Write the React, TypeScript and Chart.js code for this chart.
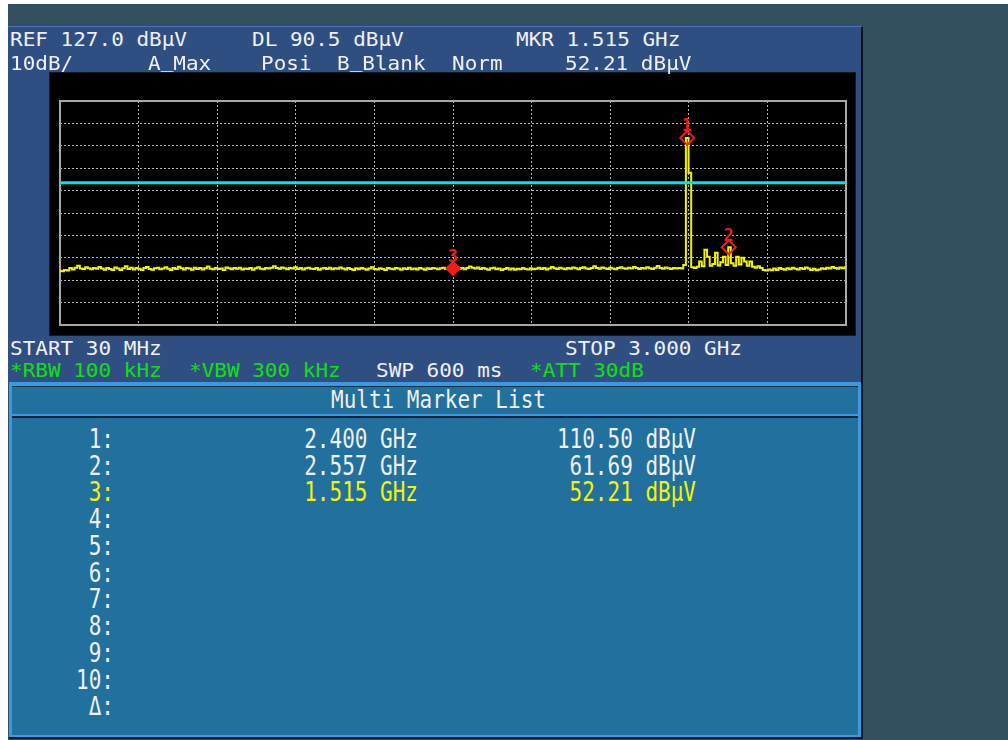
import React, { useEffect, useRef } from "react";
import { Chart, registerables } from "chart.js";
Chart.register(...registerables);

// ---- sweep / scale settings ----
const START_MHZ = 30;
const STOP_MHZ = 3000;
const STEP_MHZ = 10;
const REF_LEVEL = 127.0;
const BOTTOM_LEVEL = 27.0;
const DISPLAY_LINE = 90.5;

const X_TICKS = [30, 327, 624, 921, 1218, 1515, 1812, 2109, 2406, 2703, 3000];
const Y_TICKS = [27, 37, 47, 57, 67, 77, 87, 97, 107, 117, 127];

// ---- trace A (max hold), dBµV, one value per 10 MHz from 30 MHz ----
const TRACE_LEVELS = [
  51.2, 51.0, 51.6, 51.3, 52.4, 51.8, 52.6, 53.4, 52.2, 52.0, 52.8, 52.3, 51.9, 52.5, 52.1, 52.9, 52.2, 51.7, 52.4, 52.0,
  51.6, 52.7, 52.2, 51.5, 52.3, 53.2, 52.0, 52.6, 51.8, 52.4, 52.1, 51.6, 52.5, 52.9, 52.0, 51.7, 52.3, 52.6, 51.9, 52.2,
  52.8, 52.1, 51.6, 52.4, 52.0, 53.0, 52.3, 51.8, 52.5, 52.2, 51.7, 52.6, 52.0, 52.4, 51.8, 52.3, 53.1, 52.1, 51.9, 52.5,
  52.0, 52.2, 51.6, 52.7, 52.3, 51.9, 52.4, 52.1, 52.6, 51.8, 52.2, 52.0, 52.5, 51.7, 52.3, 52.8, 52.1, 51.9, 52.4, 52.2,
  52.6, 53.2, 52.4, 52.1, 52.7, 52.3, 51.9, 52.5, 52.2, 52.8, 52.0, 52.4, 51.8, 52.3, 52.6, 52.1, 52.0, 52.5, 51.7, 52.2,
  52.4, 52.0, 52.6, 51.9, 52.3, 52.1, 52.7, 52.2, 51.8, 52.4, 52.0, 51.6, 52.3, 51.9, 52.5, 52.1, 51.7, 52.2, 52.8, 52.0,
  51.8, 52.3, 52.0, 51.6, 52.4, 52.1, 51.9, 52.5, 52.2, 51.7, 52.3, 52.0, 52.6, 51.9, 52.2, 51.8, 52.4, 52.1, 51.7, 52.3,
  52.0, 52.5, 52.2, 51.9, 52.3, 52.6, 52.0, 52.4, 52.2, 52.3, 52.8, 52.1, 52.5, 51.9, 52.4, 53.1, 52.6, 52.2, 52.7, 52.0,
  52.4, 52.1, 51.7, 52.3, 52.6, 51.9, 52.2, 51.6, 52.0, 52.4, 51.8, 52.2, 51.7, 52.1, 51.9, 52.5, 52.0, 51.8, 52.3, 51.9,
  52.1, 52.6, 52.0, 52.4, 51.8, 52.2, 52.9, 52.3, 52.0, 52.6, 52.2, 51.9, 52.5, 52.1, 52.7, 52.3, 51.9, 52.4, 52.8, 52.2,
  52.0, 52.5, 53.2, 52.4, 52.1, 52.7, 52.3, 52.0, 52.6, 52.2, 51.9, 52.5, 52.8, 52.3, 52.1, 52.6, 52.2, 52.9, 52.4, 52.0,
  52.5, 52.2, 52.8, 52.3, 52.0, 52.6, 53.3, 52.4, 52.1, 52.7, 52.3, 52.0, 52.5, 52.2, 52.4, 52.2, 53.8, 110.5, 95.0, 52.8,
  52.4, 53.0, 55.3, 53.2, 60.6, 57.5, 53.4, 54.2, 59.3, 53.6, 55.0, 57.5, 53.8, 61.7, 54.6, 53.5, 57.5, 54.0, 57.0, 55.3,
  53.4, 55.3, 53.0, 52.6, 53.2, 52.4, 51.5, 51.3, 51.8, 51.4, 52.2, 51.6, 52.5, 52.0, 51.7, 52.3, 51.9, 52.6, 52.1, 51.8,
  52.4, 52.0, 52.7, 52.2, 51.6, 52.1, 51.4, 51.8, 52.3, 52.0, 52.6, 52.2, 52.9, 52.4, 52.1, 52.7, 52.3, 52.8,
];

// ---- markers ----
const MARKER_IDS = ["1", "2", "3"];
const MARKER_FREQ_GHZ = [2.4, 2.557, 1.515];
const MARKER_LEVELS = [110.5, 61.69, 52.21];
const ACTIVE_MARKER = 2;
const LIST_ROWS = ["1", "2", "3", "4", "5", "6", "7", "8", "9", "10", "Δ"];

const FONT = '"DejaVu Sans Mono", monospace';
const RED = "#f01c1c";
const WHITE = "#f0f0f0";
const GREEN = "#10e010";
const YELLOW = "#f4f400";

function T(props: { x: number; y: number; s: string; color?: string; sy?: number; size?: number; align?: string }) {
  const size = props.size ?? 21;
  const sy = props.sy ?? 1;
  const top = props.y - 0.117 * size * sy;
  const style: any = {
    position: "absolute",
    top,
    fontFamily: FONT,
    fontSize: size,
    lineHeight: size + "px",
    color: props.color ?? WHITE,
    whiteSpace: "pre",
    transform: `scaleY(${sy})`,
    transformOrigin: "0 0",
    zIndex: 2,
  };
  if (props.align === "right") style.right = 1008 - props.x;
  else style.left = props.x;
  const parts = props.s.split("_");
  return (
    <div style={style}>
      {parts.map((p, i) => (
        <React.Fragment key={i}>
          {i > 0 && <span style={{ position: "relative", top: -3 }}>_</span>}
          {p}
        </React.Fragment>
      ))}
    </div>
  );
}

function Plot() {
  const ref = useRef<HTMLCanvasElement>(null);
  useEffect(() => {
    const canvas = ref.current!;
    const traceData = TRACE_LEVELS.map((v, i) => ({ x: START_MHZ + i * STEP_MHZ, y: v }));
    const dlData = [
      { x: START_MHZ, y: DISPLAY_LINE },
      { x: STOP_MHZ, y: DISPLAY_LINE },
    ];
    const markerData = MARKER_FREQ_GHZ.map((f, i) => ({ x: f * 1000, y: MARKER_LEVELS[i] }));

    const framePlugin = {
      id: "frame",
      beforeDatasetsDraw(chart: any) {
        const { ctx, chartArea: a } = chart;
        ctx.save();
        ctx.strokeStyle = "#a8a8a8";
        ctx.lineWidth = 2;
        ctx.strokeRect(a.left, a.top, a.right - a.left, a.bottom - a.top);
        ctx.restore();
      },
    };
    const labelPlugin = {
      id: "markerLabels",
      afterDatasetsDraw(chart: any) {
        const meta = chart.getDatasetMeta(2);
        const ctx = chart.ctx;
        ctx.save();
        ctx.fillStyle = RED;
        ctx.font = 'bold 17px "DejaVu Sans Mono"';
        ctx.textAlign = "center";
        ctx.textBaseline = "alphabetic";
        meta.data.forEach((el: any, i: number) => {
          ctx.fillText(MARKER_IDS[i], el.x, el.y - 6.5);
        });
        ctx.restore();
      },
    };

    const chart = new Chart(canvas, {
      type: "line",
      data: {
        datasets: [
          {
            label: "A_Max",
            data: traceData,
            borderColor: "#f2f200",
            borderWidth: 2,
            pointRadius: 0,
            stepped: "middle",
            order: 3,
          },
          {
            label: "DL",
            data: dlData,
            borderColor: "#00e4ee",
            borderWidth: 3,
            pointRadius: 0,
            order: 2,
          },
          {
            type: "scatter",
            label: "Markers",
            data: markerData,
            showLine: false,
            pointStyle: "rectRot",
            pointRadius: MARKER_IDS.map((_, i) => (i === ACTIVE_MARKER ? 6.5 : 7)),
            pointBorderWidth: 2,
            pointBorderColor: RED,
            pointBackgroundColor: MARKER_IDS.map((_, i) => (i === ACTIVE_MARKER ? RED : "rgba(0,0,0,0)")),
            borderColor: RED,
            backgroundColor: RED,
            order: 1,
          } as any,
        ],
      },
      options: {
        animation: false,
        responsive: false,
        maintainAspectRatio: false,
        devicePixelRatio: 1,
        layout: { padding: { left: 10, top: 28, right: 9, bottom: 10 } },
        plugins: { legend: { display: false }, tooltip: { enabled: false } },
        events: [],
        scales: {
          x: {
            type: "linear",
            min: START_MHZ,
            max: STOP_MHZ,
            ticks: { display: false },
            grid: { color: "#b4b4b4", lineWidth: 1, drawTicks: false },
            border: { display: false, dash: [2, 2] },
            afterBuildTicks: (s: any) => {
              s.ticks = X_TICKS.map((v) => ({ value: v }));
            },
          },
          y: {
            type: "linear",
            min: BOTTOM_LEVEL,
            max: REF_LEVEL,
            ticks: { display: false },
            grid: { color: "#b4b4b4", lineWidth: 1, drawTicks: false },
            border: { display: false, dash: [2, 2] },
            afterBuildTicks: (s: any) => {
              s.ticks = Y_TICKS.map((v) => ({ value: v }));
            },
          },
        },
      } as any,
      plugins: [framePlugin, labelPlugin],
    });
    return () => chart.destroy();
  }, []);
  return (
    <canvas
      ref={ref}
      width={805}
      height={262}
      style={{ position: "absolute", left: 50, top: 73, width: 805, height: 262, background: "#000", outline: "1px solid #141a22", zIndex: 1 }}
    />
  );
}

export default function App() {
  const active = ACTIVE_MARKER;
  const mkrFreq = MARKER_FREQ_GHZ[active].toFixed(3);
  const mkrLevel = MARKER_LEVELS[active].toFixed(2);
  const HS = 0.92;
  const LS = 1.26;
  return (
    <div style={{ position: "fixed", left: 0, top: 0, width: 1008, height: 740, background: "#ffffff", overflow: "hidden" }}>
      <div style={{ position: "absolute", left: 8, top: 4, width: 1000, height: 736, background: "#325060" }} />
      {/* upper panel */}
      <div
        style={{
          position: "absolute",
          left: 8,
          top: 26,
          width: 853,
          height: 356,
          background: "#2f4f82",
          borderTop: "1px solid #4a72b4",
          borderRight: "2px solid #0e1620",
        }}
      />
      <T x={10} y={32} s={`REF ${REF_LEVEL.toFixed(1)} dBµV`} sy={HS} />
      <T x={252} y={32} s={`DL ${DISPLAY_LINE.toFixed(1)} dBµV`} sy={HS} />
      <T x={516} y={32} s={`MKR ${mkrFreq} GHz`} sy={HS} />
      <T x={10} y={56} s="10dB/" sy={HS} />
      <T x={148} y={56} s="A_Max" sy={HS} />
      <T x={261} y={56} s="Posi" sy={HS} />
      <T x={337} y={56} s="B_Blank" sy={HS} />
      <T x={452} y={56} s="Norm" sy={HS} />
      <T x={565} y={56} s={`${mkrLevel} dBµV`} sy={HS} />
      <Plot />
      <T x={10} y={341} s={`START ${START_MHZ} MHz`} sy={HS} />
      <T x={565} y={341} s={`STOP ${(STOP_MHZ / 1000).toFixed(3)} GHz`} sy={HS} />
      <T x={10} y={363} s="*RBW 100 kHz" color={GREEN} sy={HS} />
      <T x={189} y={363} s="*VBW 300 kHz" color={GREEN} sy={HS} />
      <T x={376} y={363} s="SWP 600 ms" sy={HS} />
      <T x={530} y={363} s="*ATT 30dB" color={GREEN} sy={HS} />
      {/* lower section */}
      <div style={{ position: "absolute", left: 9, top: 382, width: 854, height: 357, background: "#0e1620" }} />
      <div style={{ position: "absolute", left: 9, top: 382, width: 852, height: 355, background: "#3a99e0" }} />
      <div style={{ position: "absolute", left: 12, top: 386, width: 846, height: 27, background: "#21709e", borderTop: "1px solid #12304a" }} />
      <div style={{ position: "absolute", left: 12, top: 416, width: 846, height: 317, background: "#21709e", borderTop: "2px solid #102436" }} />
      <T x={331} y={391} s="Multi Marker List" sy={1.18} />
      {LIST_ROWS.map((r, k) => {
        const y = 430 + k * 26.75;
        const has = k < MARKER_IDS.length;
        const color = k === active ? YELLOW : WHITE;
        return (
          <React.Fragment key={r}>
            <T x={114} y={y} s={`${r}:`} align="right" color={color} sy={LS} />
            {has && <T x={418} y={y} s={`${MARKER_FREQ_GHZ[k].toFixed(3)} GHz`} align="right" color={color} sy={LS} />}
            {has && <T x={696} y={y} s={`${MARKER_LEVELS[k].toFixed(2)} dBµV`} align="right" color={color} sy={LS} />}
          </React.Fragment>
        );
      })}
    </div>
  );
}
